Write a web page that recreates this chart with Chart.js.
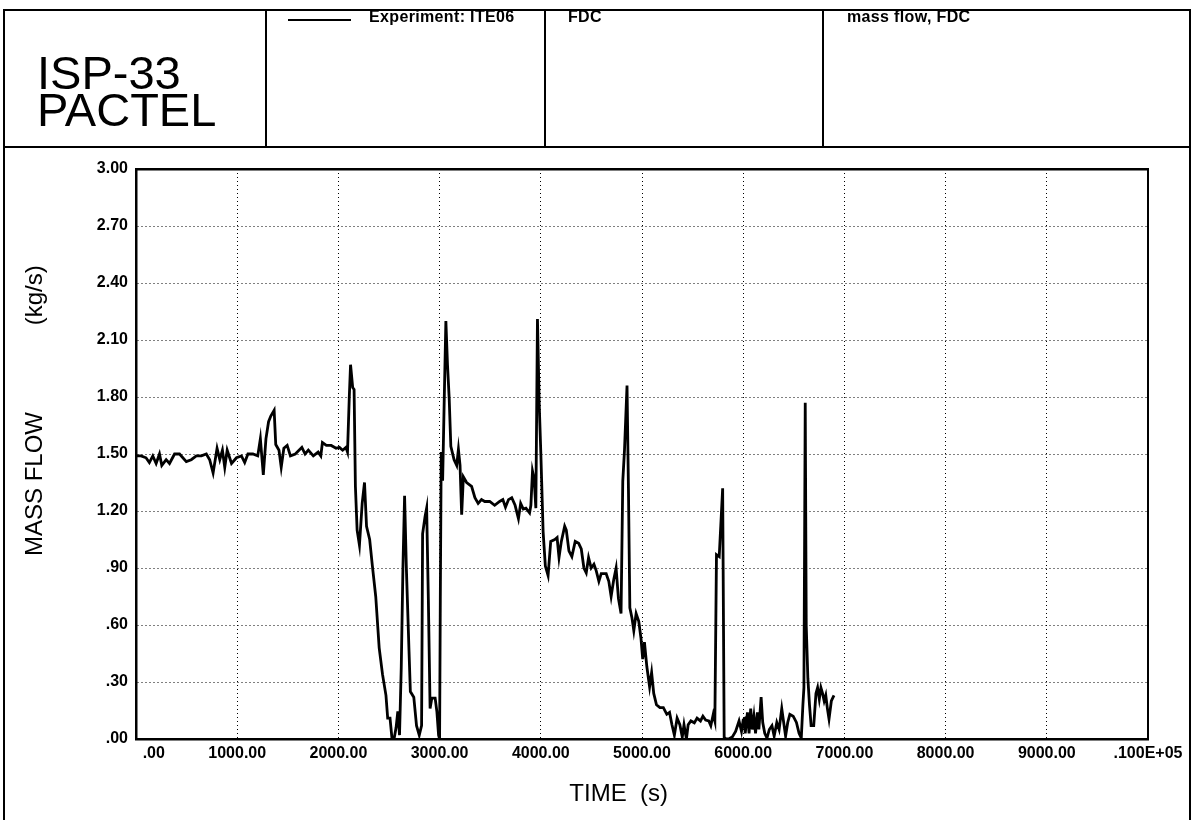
<!DOCTYPE html>
<html>
<head>
<meta charset="utf-8">
<script src="https://cdn.jsdelivr.net/npm/chart.js@4.4.1/dist/chart.umd.min.js"></script>
<style>
  html, body { margin:0; padding:0; background:#fff; }
  #wrap { position:relative; width:1192px; height:820px; overflow:hidden; font-family:"Liberation Sans", Arial, sans-serif; color:#000; }
  #c { position:absolute; left:0; top:0; }
  .ln { position:absolute; background:#000; }
  .txt { position:absolute; white-space:pre; }
  .hd { font-size:16px; font-weight:bold; line-height:18px; letter-spacing:0.35px; top:8px; }
</style>
</head>
<body>
<div id="wrap">
  <canvas id="c" width="1192" height="820"></canvas>
  <!-- outer frame and header cells -->
  <div class="ln" style="left:3px;top:9px;width:2px;height:811px"></div>
  <div class="ln" style="left:1189px;top:9px;width:2px;height:811px"></div>
  <div class="ln" style="left:3px;top:9px;width:1188px;height:2px"></div>
  <div class="ln" style="left:3px;top:146px;width:1188px;height:2px"></div>
  <div class="ln" style="left:265px;top:9px;width:2px;height:138px"></div>
  <div class="ln" style="left:544px;top:9px;width:2px;height:138px"></div>
  <div class="ln" style="left:822px;top:9px;width:2px;height:138px"></div>
  <div class="txt" style="left:37px;top:54px;font-size:47px;line-height:37px;">ISP-33<br>PACTEL</div>
  <div class="ln" style="left:288px;top:19px;width:63px;height:2px"></div>
  <div class="txt hd" style="left:369px;">Experiment: ITE06</div>
  <div class="txt hd" style="left:568px;">FDC</div>
  <div class="txt hd" style="left:847px;">mass flow, FDC</div>
</div>
<script>
// ---- data ----
const timeSec = [
  0, 50, 99, 132, 166, 199, 232, 255, 298, 331, 381, 430, 497, 546, 596, 646, 695, 728, 762, 801,
  828, 854, 877, 901, 944, 993, 1042, 1074, 1106, 1155, 1203, 1229, 1258, 1284, 1310, 1332, 1365, 1381, 1413, 1435,
  1461, 1494, 1526, 1574, 1639, 1671, 1703, 1752, 1800, 1826, 1842, 1881, 1929, 1977, 2010, 2042, 2074, 2090, 2107, 2120,
  2141, 2155, 2168, 2185, 2208, 2235, 2258, 2278, 2309, 2336, 2369, 2403, 2436, 2470, 2487, 2510, 2530, 2550, 2570, 2587,
  2604, 2621, 2638, 2654, 2671, 2698, 2711, 2745, 2772, 2799, 2822, 2832, 2856, 2872, 2889, 2906, 2923, 2956, 2973, 2990,
  3000, 3007, 3016, 3030, 3046, 3062, 3078, 3095, 3111, 3143, 3169, 3186, 3202, 3218, 3235, 3267, 3316, 3349, 3381, 3414,
  3446, 3495, 3544, 3593, 3625, 3651, 3681, 3713, 3746, 3779, 3801, 3827, 3853, 3889, 3902, 3918, 3934, 3951, 3967, 3984,
  4000, 4023, 4045, 4072, 4098, 4138, 4161, 4180, 4203, 4236, 4252, 4278, 4307, 4340, 4374, 4400, 4426, 4449, 4472, 4498,
  4525, 4548, 4574, 4597, 4646, 4672, 4695, 4721, 4744, 4767, 4793, 4810, 4827, 4852, 4866, 4880, 4900, 4919, 4942, 4968,
  4990, 5007, 5024, 5048, 5075, 5095, 5116, 5143, 5177, 5211, 5245, 5272, 5296, 5320, 5347, 5374, 5398, 5415, 5439, 5456,
  5483, 5517, 5544, 5578, 5602, 5629, 5660, 5680, 5704, 5720, 5736, 5763, 5797, 5812, 5830, 5857, 5891, 5925, 5959, 5983,
  6000, 6010, 6020, 6042, 6058, 6074, 6090, 6106, 6122, 6140, 6155, 6177, 6193, 6213, 6235, 6258, 6284, 6306, 6332, 6355,
  6381, 6400, 6419, 6440, 6461, 6494, 6526, 6552, 6574, 6590, 6600, 6613, 6623, 6639, 6655, 6671, 6697, 6719, 6735, 6752,
  6768, 6784, 6800, 6816, 6832, 6848, 6871, 6897
];
const massFlow = [
  1.49, 1.49, 1.48, 1.455, 1.49, 1.45, 1.50, 1.44, 1.47, 1.45, 1.50, 1.50, 1.46, 1.47, 1.49, 1.49, 1.50, 1.47, 1.40, 1.53,
  1.47, 1.52, 1.43, 1.52, 1.45, 1.48, 1.49, 1.455, 1.50, 1.50, 1.49, 1.58, 1.39, 1.58, 1.67, 1.70, 1.73, 1.55, 1.52, 1.43,
  1.53, 1.545, 1.49, 1.50, 1.535, 1.50, 1.52, 1.49, 1.51, 1.49, 1.56, 1.545, 1.545, 1.53, 1.535, 1.52, 1.535, 1.51, 1.79, 1.97,
  1.85, 1.84, 1.33, 1.10, 1.02, 1.24, 1.35, 1.12, 1.05, 0.91, 0.75, 0.48, 0.34, 0.23, 0.11, 0.11, 0.0, 0.0, 0.06, 0.145,
  0.02, 0.375, 0.91, 1.28, 0.91, 0.46, 0.25, 0.22, 0.07, 0.02, 0.07, 1.08, 1.17, 1.215, 0.73, 0.16, 0.215, 0.215, 0.145, 0.02,
  0.0, 0.73, 1.51, 1.36, 1.79, 2.20, 1.97, 1.79, 1.54, 1.47, 1.44, 1.525, 1.44, 1.18, 1.38, 1.35, 1.33, 1.27, 1.24, 1.26,
  1.25, 1.25, 1.23, 1.25, 1.26, 1.22, 1.26, 1.27, 1.23, 1.16, 1.24, 1.21, 1.215, 1.19, 1.23, 1.41, 1.37, 1.215, 2.21, 1.77,
  1.51, 1.09, 0.91, 0.86, 1.04, 1.05, 1.06, 0.955, 1.04, 1.12, 1.10, 0.99, 0.96, 1.04, 1.03, 1.00, 0.90, 0.875, 0.955, 0.90,
  0.92, 0.885, 0.83, 0.87, 0.87, 0.83, 0.75, 0.84, 0.90, 0.74, 0.66, 1.356, 1.52, 1.86, 1.32, 0.69, 0.64, 0.57, 0.66, 0.62,
  0.53, 0.42, 0.51, 0.38, 0.275, 0.35, 0.24, 0.18, 0.165, 0.165, 0.13, 0.14, 0.075, 0.02, 0.11, 0.075, 0.01, 0.075, 0.0, 0.075,
  0.095, 0.085, 0.11, 0.095, 0.12, 0.10, 0.095, 0.07, 0.13, 0.095, 0.97, 0.96, 1.32, 0.01, 0.0, 0.0, 0.01, 0.04, 0.095, 0.04,
  0.10, 0.105, 0.03, 0.14, 0.03, 0.16, 0.05, 0.12, 0.03, 0.14, 0.05, 0.22, 0.087, 0.03, 0.005, 0.05, 0.07, 0.015, 0.087, 0.05,
  0.16, 0.087, 0.015, 0.087, 0.13, 0.12, 0.087, 0.03, 0.005, 0.18, 0.27, 1.77, 0.595, 0.32, 0.18, 0.07, 0.07, 0.24, 0.27, 0.21,
  0.27, 0.24, 0.20, 0.23, 0.16, 0.105, 0.20, 0.23
];
const xTickValues = [0, 1000, 2000, 3000, 4000, 5000, 6000, 7000, 8000, 9000, 10000];
const xTickLabels = ['        .00', '1000.00', '2000.00', '3000.00', '4000.00', '5000.00', '6000.00', '7000.00', '8000.00', '9000.00', '.100E+05'];
const yTickValues = [0, 0.3, 0.6, 0.9, 1.2, 1.5, 1.8, 2.1, 2.4, 2.7, 3.0];
const yTickLabels = ['.00', '.30', '.60', '.90', '1.20', '1.50', '1.80', '2.10', '2.40', '2.70', '3.00'];
const seriesName = 'Experiment: ITE06';
const xTitle = 'TIME  (s)       ';
const yTitle = '             MASS FLOW             (kg/s)';

const FONT = 'Liberation Sans';
const points = timeSec.map((t, i) => ({ x: t, y: massFlow[i] }));

new Chart(document.getElementById('c'), {
  type: 'line',
  data: {
    datasets: [{
      label: seriesName,
      data: points,
      borderColor: '#000',
      backgroundColor: '#000',
      borderWidth: 2.8,
      pointRadius: 0,
      tension: 0,
      fill: false,
      xAxisID: 'x',
      yAxisID: 'y'
    }]
  },
  options: {
    responsive: false,
    animation: false,
    devicePixelRatio: 1,
    layout: { padding: { left: 0, top: 169, right: 44, bottom: 0 } },
    plugins: { legend: { display: false }, tooltip: { enabled: false } },
    scales: {
      x: {
        type: 'linear', position: 'bottom', min: 0, max: 10000,
        afterBuildTicks: s => { s.ticks = xTickValues.map(v => ({ value: v })); },
        afterFit: s => { s.height = 81; s.paddingLeft = 0; s.paddingRight = 0; },
        ticks: {
          autoSkip: false, maxRotation: 0, minRotation: 0, color: '#000', padding: 5,
          font: { family: FONT, size: 16, weight: 'bold' },
          callback: (v, i) => xTickLabels[i]
        },
        grid: { display: true, color: '#000', lineWidth: 1, drawTicks: false },
        border: { display: true, color: '#000', width: 2.5, dash: [1, 3] },
        title: { display: true, text: xTitle, color: '#000', font: { family: FONT, size: 24 }, padding: { top: 0, bottom: 11 } }
      },
      y: {
        type: 'linear', position: 'left', min: 0, max: 3,
        afterBuildTicks: s => { s.ticks = yTickValues.map(v => ({ value: v })); },
        afterFit: s => { s.width = 136; s.paddingTop = 0; s.paddingBottom = 0; },
        ticks: {
          autoSkip: false, color: '#000', padding: 8,
          font: { family: FONT, size: 16, weight: 'bold' },
          callback: (v, i) => yTickLabels[i]
        },
        grid: { display: true, color: '#000', lineWidth: 1, drawTicks: false },
        border: { display: true, color: '#000', width: 2.5, dash: [1, 3] },
        title: { display: true, text: yTitle, color: '#000', font: { family: FONT, size: 24 }, padding: { top: 21, bottom: 0 } }
      },
      x2: {
        type: 'linear', position: 'top', min: 0, max: 10000,
        afterFit: s => { s.height = 0; s.paddingLeft = 0; s.paddingRight = 0; },
        ticks: { display: false }, grid: { display: false, drawTicks: false },
        border: { display: true, color: '#000', width: 2.5 }
      },
      y2: {
        type: 'linear', position: 'right', min: 0, max: 3,
        afterFit: s => { s.width = 0; s.paddingTop = 0; s.paddingBottom = 0; },
        ticks: { display: false }, grid: { display: false, drawTicks: false },
        border: { display: true, color: '#000', width: 2 }
      }
    }
  }
});
</script>
</body>
</html>
